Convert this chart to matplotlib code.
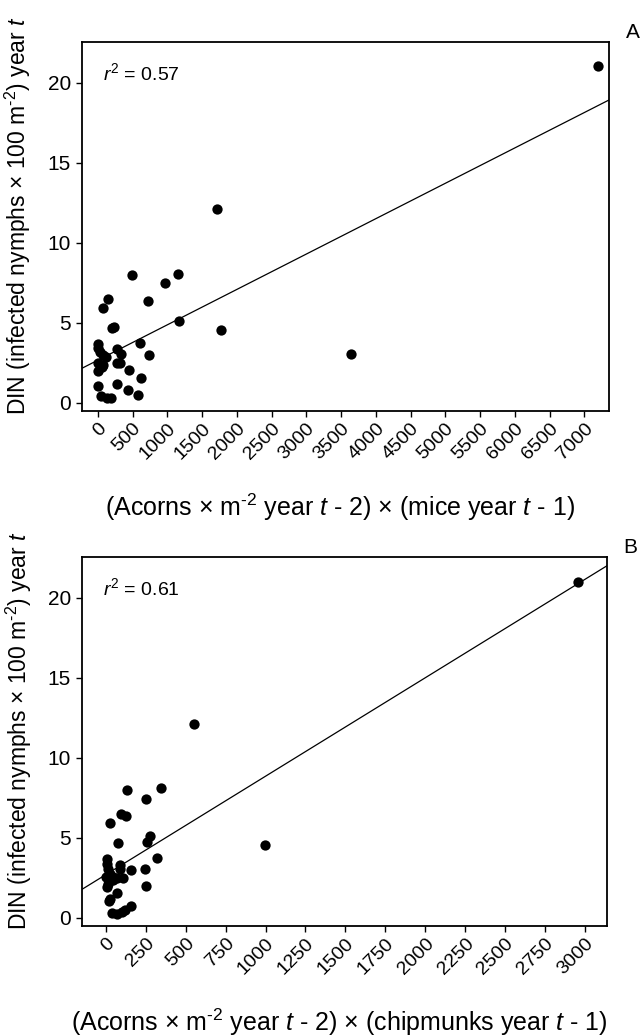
import matplotlib
matplotlib.use('Agg')
import matplotlib.pyplot as plt
import numpy as np

# panel A: (acorns x m-2 year t-2) x (mice year t-1)
mice_x = [0, 50, 128, 190, 583, 435, 272, 622, 453, 272, 324, 732, 329, 281,
          607, 200, 233, 1173, 1777, 70, 147, 718, 967, 496, 1158, 1719, 3639,
          7197, 0, 10, 30, 70, 118, 0, 70, 10, 60]
mice_y = [1.04, 0.42, 0.33, 0.29, 0.48, 0.79, 1.19, 1.56, 2.04, 2.48, 2.48,
          2.98, 3.06, 3.35, 3.73, 4.67, 4.77, 5.12, 4.54, 5.96, 6.5, 6.38,
          7.48, 8.02, 8.08, 12.1, 3.06, 21.06, 3.71, 3.42, 3.17, 3.0, 2.9,
          2.48, 2.38, 2.02, 2.27]
mice_fit = (2.67, 0.00221)   # intercept, slope
mice_r2 = '0.57'

# panel B: (acorns x m-2 year t-2) x (chipmunks year t-1)
chip_x = [553, 998, 131, 344, 250, 94, 127, 25, 276, 259, 75, 319, 88, 88,
          159, 242, 248, 109, 67, 71, 19, 159, 36, 67, 98, 121, 4, 4, 15, 0,
          25, 15, 42, 8, 46, 25, 2957]
chip_y = [12.1, 4.54, 7.98, 8.09, 7.46, 6.48, 6.36, 5.96, 5.1, 4.75, 4.67,
          3.73, 3.31, 3.08, 2.98, 3.06, 2.0, 2.48, 2.48, 1.59, 1.06, 0.77,
          0.29, 0.27, 0.36, 0.5, 3.67, 3.4, 3.08, 2.56, 2.77, 2.15, 2.36,
          1.94, 2.56, 1.17, 21.0]
chip_fit = (2.71, 0.006145)
chip_r2 = '0.61'

plt.rcParams['font.family'] = ['Liberation Sans', 'DejaVu Sans']
plt.rcParams['mathtext.fontset'] = 'custom'
plt.rcParams['mathtext.rm'] = 'Liberation Sans'
plt.rcParams['mathtext.it'] = 'Liberation Sans:italic'

fig = plt.figure(figsize=(6.44, 10.36), dpi=100)

ylab = r'DIN (infected nymphs $\times$ 100 m$^{\text{-2}}$) year $t$'
panels = [
    dict(x=mice_x, y=mice_y, fit=mice_fit, r2=mice_r2, letter='A',
         rect=[0.1273, 0.6033, 0.8183, 0.3562], xlim=(-227, 7355),
         xticks=np.arange(0, 7001, 500),
         xlabel=r'(Acorns $\times$ m$^{\text{-2}}$ year $t$ - 2) $\times$ (mice year $t$ - 1)'),
    dict(x=chip_x, y=chip_y, fit=chip_fit, r2=chip_r2, letter='B',
         rect=[0.1273, 0.1062, 0.8152, 0.3562], xlim=(-150, 3139),
         xticks=np.arange(0, 3001, 250),
         xlabel=r'(Acorns $\times$ m$^{\text{-2}}$ year $t$ - 2) $\times$ (chipmunks year $t$ - 1)'),
]

for p in panels:
    ax = fig.add_axes(p['rect'])
    ax.scatter(p['x'], p['y'], s=55, color='black', zorder=3, linewidths=0)
    xs = np.array(p['xlim'])
    ax.plot(xs, p['fit'][0] + p['fit'][1] * xs, color='black', lw=0.9)
    ax.set_xlim(*p['xlim'])
    ax.set_ylim(-0.5, 22.55)
    ax.set_xticks(p['xticks'])
    ax.set_yticks([0, 5, 10, 15, 20])
    ax.tick_params(direction='out', length=4.5, width=1, labelsize=15)
    ax.tick_params(axis='x', labelsize=14, pad=2)
    for lab in ax.get_xticklabels():
        lab.set_rotation(45)
        lab.set_ha('right')
        lab.set_va('top')
        lab.set_rotation_mode('anchor')
    for s in ax.spines.values():
        s.set_linewidth(1.3)
    ax.text(0.04, 0.915, '$r^2$ = ' + p['r2'], transform=ax.transAxes,
            fontsize=14, ha='left', va='center')
    ax.text(1.045, 1.025, p['letter'], transform=ax.transAxes,
            fontsize=15, ha='center', va='center')
    ax.text(0.49, -0.26, p['xlabel'], transform=ax.transAxes, fontsize=18,
            ha='center', va='center')
    ax.text(-0.121, 0.53, ylab, transform=ax.transAxes, fontsize=16.5,
            ha='center', va='center', rotation=90)

fig.savefig('out.png', dpi=100)
